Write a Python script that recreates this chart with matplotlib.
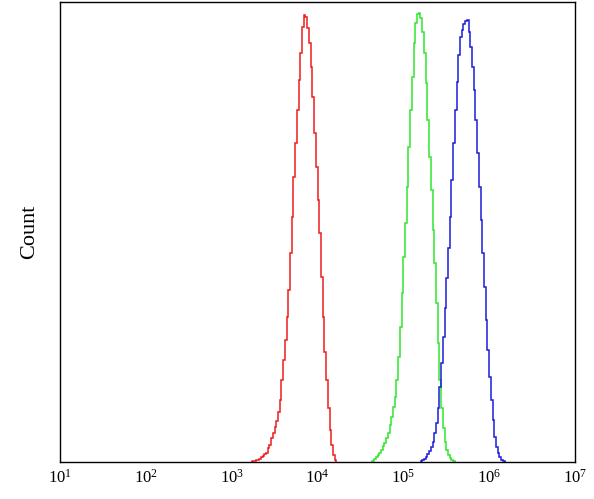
import numpy as np
import matplotlib
matplotlib.use("Agg")
import matplotlib.pyplot as plt

plt.rcParams['font.family'] = ['Liberation Serif', 'DejaVu Serif']
plt.rcParams['mathtext.fontset'] = 'custom'
plt.rcParams['mathtext.rm'] = 'Liberation Serif'
plt.rcParams['mathtext.it'] = 'Liberation Serif:italic'

# Histogram bin width in log10 units, and first bin (log10) of each series
bin_width = 0.02
red_start = 3.24
green_start = 4.64
blue_start = 5.20

red_counts = [1, 1, 2, 2, 3, 5, 6, 8, 9, 14, 17, 24, 29, 35, 41, 50, 62, 82, 102,
              122, 145, 172, 209, 245, 285, 319, 352, 382, 409, 435, 447, 445, 434,
              419, 395, 365, 329, 295, 262, 229, 185, 145, 110, 82, 54, 32, 17, 7, 2]
green_counts = [1, 3, 5, 7, 9, 12, 16, 19, 24, 29, 37, 45, 55, 65, 82, 105, 135, 169,
                205, 239, 275, 315, 352, 385, 419, 439, 448, 449, 444, 430, 409, 379,
                342, 305, 272, 232, 199, 159, 119, 82, 54, 34, 20, 12, 7, 4, 2, 1]
blue_counts = [1, 2, 3, 5, 8, 11, 15, 20, 29, 39, 54, 75, 99, 125, 154, 184, 214, 245,
               282, 319, 352, 380, 407, 425, 432, 438, 441, 442, 430, 415, 395, 372,
               342, 309, 275, 242, 209, 175, 142, 112, 85, 62, 42, 25, 15, 9, 5, 2, 1]

tick_exponents = [1, 2, 3, 4, 5, 6, 7]
y_label = "Count"

fig = plt.figure(figsize=(5.94, 4.99), dpi=100)
ax = fig.add_axes([60 / 594, 37 / 499, 515 / 594, 460 / 499])

for counts, start, color in [(red_counts, red_start, '#ee1c1c'),
                             (green_counts, green_start, '#2ee62e'),
                             (blue_counts, blue_start, '#1c1cd8')]:
    edges = 10 ** (start + bin_width * np.arange(len(counts) + 1))
    ax.stairs(counts, edges, color=color, linewidth=1.1, baseline=0)

ax.set_xscale('log')
ax.set_xlim(10 ** tick_exponents[0], 10 ** tick_exponents[-1])
ax.set_ylim(0, 460)
ax.set_xticks([10 ** e for e in tick_exponents])
ax.set_xticklabels([r'$10^{%d}$' % e for e in tick_exponents])
ax.xaxis.set_minor_locator(matplotlib.ticker.NullLocator())
ax.tick_params(axis='x', length=0, pad=5, labelsize=12)
ax.set_yticks([])
ax.set_ylabel(y_label, fontsize=16, labelpad=15)
for s in ax.spines.values():
    s.set_linewidth(1.0)
    s.set_color('black')

fig.savefig("out.png", dpi=100)
